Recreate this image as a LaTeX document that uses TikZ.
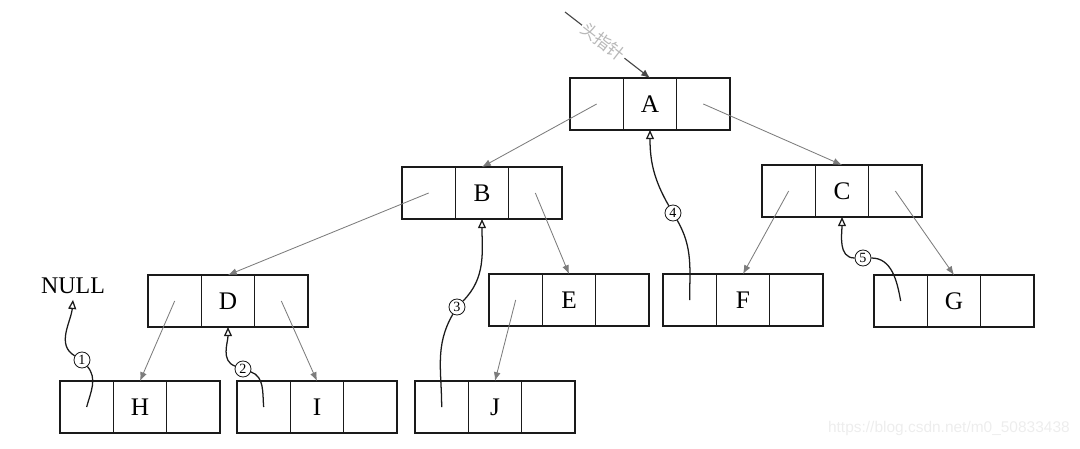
\documentclass[tikz,border=0pt]{standalone}
\usepackage{fontspec}
\setmainfont{Liberation Serif}
\newfontfamily\cjk{Noto Sans CJK SC}
\newfontfamily\wmfont{Liberation Sans}
\usepackage{tikz}
\usetikzlibrary{arrows.meta,positioning}
\definecolor{Ink}{HTML}{1A1A1A}
\definecolor{Edge}{HTML}{7C7C7C}
\definecolor{Faint}{HTML}{B8B8B8}
\definecolor{Mark}{HTML}{EDEDED}
\tikzset{cell/.style={draw=Ink,line width=1.1pt,minimum width=1.333cm,minimum height=1.3cm,inner sep=0pt,outer sep=0pt,font=\fontsize{18}{20}\selectfont},edge/.style={-{Latex[length=2.2mm,width=1.7mm]},line width=.6pt,draw=Edge},thread/.style={line width=.9pt,draw=Ink},back/.style={thread,-{Triangle[open,length=2.3mm,width=2mm]}},tag/.style={circle,draw=Ink,line width=.6pt,minimum size=.4cm,inner sep=0pt,font=\fontsize{10}{10}\selectfont}}

\begin{document}
\begin{tikzpicture}[x=0.025cm,y=0.025cm]
      \useasboundingbox (0,0) rectangle (1080,-448);
      \foreach \n/\x/\y in {A/650/104,B/482/193,C/842/191,D/228/301,E/569/300,F/743/300,G/954/301,H/140/407,I/317/407,J/495/407}{
        \node[cell] (\n) at (\x,-\y) {\n};
        \node[cell,left=0pt of \n] (\n-l) {};
        \node[cell,right=0pt of \n] (\n-r) {};
      }
      \node[font=\fontsize{17}{18}\selectfont,inner sep=4pt] (null) at (73,-286) {NULL};
      \coordinate (root) at (565,-12);
      \draw[-{Latex[length=2.2mm,width=1.8mm]},line width=.8pt,draw=Ink!80] (root) -- node[sloped,pos=.45,fill=white,inner sep=1pt,text=Faint,font=\cjk\fontsize{12}{12}\selectfont]{头指针} (A.north);
      % child pointers
      \draw[edge](A-l.center)--(B.north);\draw[edge](A-r.center)--(C.north);
      \draw[edge](B-l.center)--(D.north);\draw[edge](B-r.center)--(E.north);
      \draw[edge](C-l.center)--(F.north);\draw[edge](C-r.center)--(G.north);
      \draw[edge](D-l.center)--(H.north);\draw[edge](D-r.center)--(I.north);
      \draw[edge](E-l.center)--(J.north);
      % threads
      \node[tag] (t1) at (82,-360) {1};
      \node[tag] (t2) at (243,-369) {2};
      \node[tag] (t3) at (457,-307) {3};
      \node[tag] (t4) at (673,-213) {4};
      \node[tag] (t5) at (863,-258) {5};
      \draw[thread](H-l.center) to[out=75,in=-50] (t1);\draw[back](t1) to[out=150,in=-95] (null.south);
      \draw[thread](I-l.center) to[out=95,in=-20] (t2);\draw[back](t2) to[out=160,in=-90] (D.south);
      \draw[thread](J-l.center) to[out=90,in=-120] (t3);\draw[back](t3) to[out=45,in=-90] (B.south);
      \draw[thread](F-l.center) to[out=90,in=-60] (t4);\draw[back](t4) to[out=120,in=-90] (A.south);
      \draw[thread](G-l.center) to[out=100,in=0] (t5);\draw[back](t5) to[out=180,in=-90] (C.south);
      \node[text=Mark,anchor=east,inner sep=0pt,font=\wmfont\fontsize{11}{12}\selectfont] (mark) at (1070,-428) {https://blog.csdn.net/m0\_50833438};
    \end{tikzpicture}
\end{document}
